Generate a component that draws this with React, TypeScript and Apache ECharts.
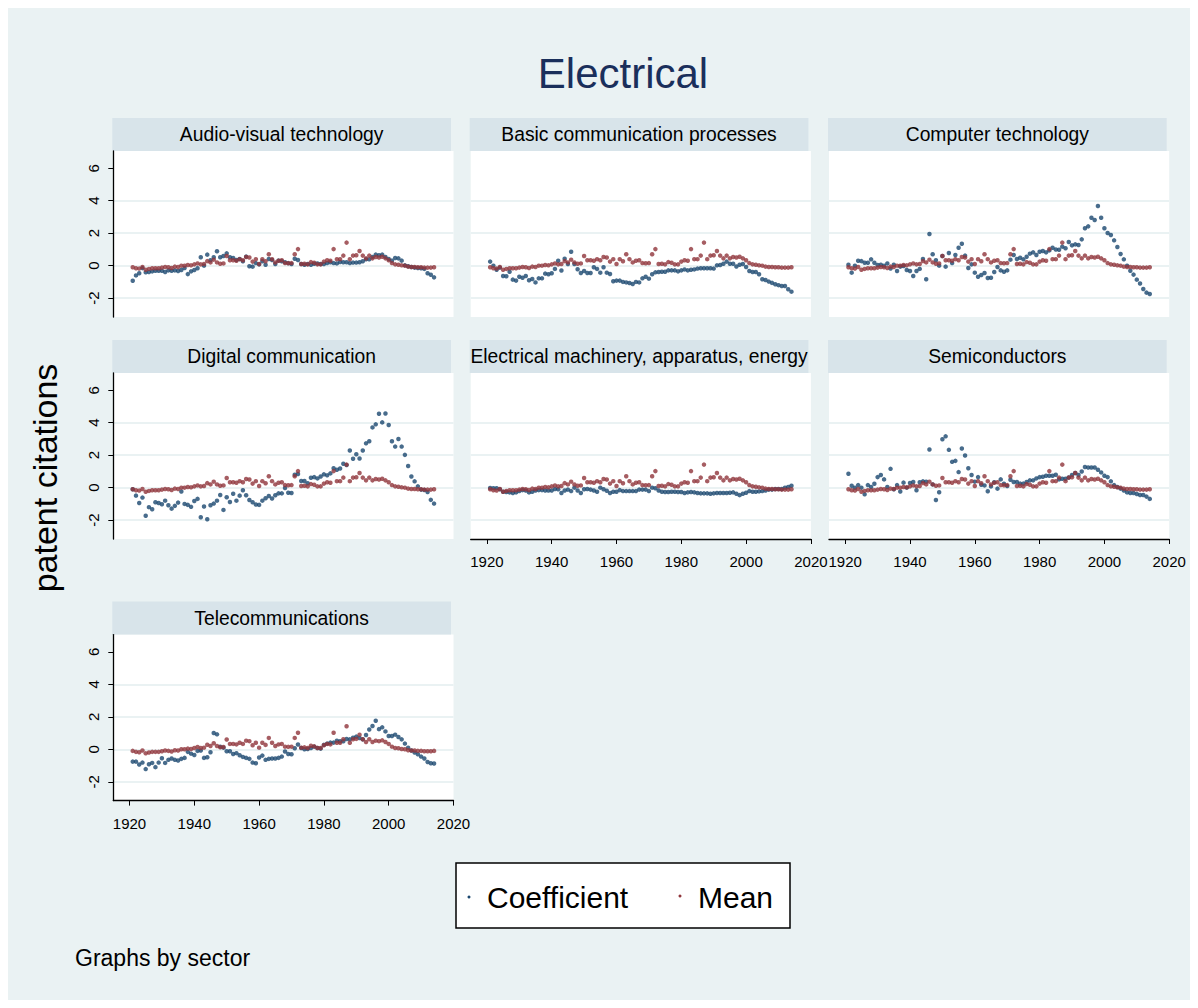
import React, { useEffect, useRef } from "react";
import * as echarts from "echarts";

const FIRST_YEAR = 1921;
const N_YEARS = 94;
const years: number[] = Array.from({ length: N_YEARS }, (_, i) => FIRST_YEAR + i);

const panelTitles = [
  "Audio-visual technology",
  "Basic communication processes",
  "Computer technology",
  "Digital communication",
  "Electrical machinery, apparatus, energy",
  "Semiconductors",
  "Telecommunications",
];

const xTicks = [1920, 1940, 1960, 1980, 2000, 2020];
const yTicks = [-2, 0, 2, 4, 6];

const meanValues = [
  -0.1, -0.16, -0.18, -0.08, -0.25, -0.2, -0.16, -0.16, -0.16, -0.12,
  -0.08, -0.1, -0.14, -0.06, -0.08, 0, 0, 0.04, 0.02, 0.08,
  0.14, 0.08, 0.1, 0.28, 0.2, 0.37, 0.2, 0.12, 0.14, 0.6,
  0.33, 0.33, 0.3, 0.4, 0.33, 0.53, 0.5, 0.25, 0.4, 0.1,
  0.4, 0.27, 0.7, 0.4, 0.2, 0.3, 0.33, 0.16, 0.15, 0.16,
  0.7, 1.02, 0.1, 0.12, 0.08, 0.22, 0.18, 0.08, 0.08, 0.25,
  0.33, 0.3, 1.02, 0.4, 0.4, 0.62, 1.42, 0.4, 0.62, 0.64,
  0.9, 0.62, 0.45, 0.62, 0.45, 0.53, 0.5, 0.55, 0.45, 0.33,
  0.16, 0.08, 0.06, 0.02, 0, -0.06, -0.08, -0.08, -0.1, -0.1,
  -0.12, -0.12, -0.12, -0.1,
];

const audioVisual = [
  -0.93, -0.6, -0.47, -0.15, -0.41, -0.39, -0.35, -0.31, -0.31, -0.31,
  -0.39, -0.29, -0.31, -0.29, -0.33, -0.27, -0.14, -0.52, -0.35, -0.27,
  -0.16, 0.52, 0, 0.68, 0.33, 0.52, 0.89, 0.52, 0.6, 0.76,
  0.52, 0.47, 0.35, 0.41, 0.27, 0.56, -0.04, -0.06, 0.16, 0.08,
  0.27, 0.06, 0.41, 0.35, 0.1, 0.31, 0.27, 0.21, 0.16, 0.1,
  0.43, 0.35, 0.1, 0.06, 0.1, 0.06, 0.12, 0.14, 0.1, 0.1,
  0.16, 0.21, 0.16, 0.14, 0.23, 0.21, 0.21, 0.16, 0.19, 0.19,
  0.21, 0.27, 0.39, 0.39, 0.54, 0.68, 0.64, 0.68, 0.54, 0.41,
  0.31, 0.47, 0.45, 0.31, 0.02, -0.04, -0.08, -0.12, -0.14, -0.16,
  -0.2, -0.47, -0.56, -0.72,
];

const basicCommunication = [
  0.25, 0, -0.25, -0.12, -0.64, -0.65, -0.37, -0.86, -0.92, -0.68,
  -0.74, -0.64, -0.9, -0.82, -1.03, -0.78, -0.78, -0.49, -0.53, -0.47,
  -0.2, 0.3, -0.3, 0.43, 0.1, 0.86, 0.1, -0.22, -0.45, -0.33,
  -0.45, -0.45, -0.1, -0.2, -0.43, -0.1, -0.43, -0.51, -0.96, -0.92,
  -0.92, -1.0, -1.03, -1.07, -1.13, -1.0, -1.03, -0.78, -0.68, -0.8,
  -0.53, -0.41, -0.39, -0.37, -0.37, -0.29, -0.29, -0.29, -0.35, -0.29,
  -0.23, -0.29, -0.25, -0.23, -0.18, -0.16, -0.16, -0.16, -0.16, -0.18,
  0.02, 0.04, 0.12, 0.25, 0.12, 0.12, -0.05, 0.06, 0.1, -0.08,
  -0.33, -0.39, -0.39, -0.53, -0.84, -0.88, -0.98, -1.06, -1.14, -1.2,
  -1.25, -1.25, -1.45, -1.6,
];

const computerTechnology = [
  0.06, -0.43, 0, 0.3, 0.28, 0.18, 0.18, 0.39, 0.18, 0.04,
  0.06, 0, 0.14, -0.18, 0.06, -0.33, -0.06, -0.02, -0.27, -0.33,
  -0.64, -0.33, -0.2, 0.41, -0.84, 1.95, 0.7, 0.33, 0, 0.6,
  -0.06, 0.78, 0.16, 0.66, 1.1, 1.35, 0.62, -0.14, 0.08, -0.43,
  -0.68, -0.57, -0.45, -0.76, -0.74, -0.39, -0.08, -0.29, -0.37, -0.29,
  0.37, 0.66, 0.41, 0.49, 0.39, 0.55, 0.74, 0.82, 0.66, 0.86,
  0.9, 0.82, 0.94, 1.1, 1.0, 0.98, 1.17, 1.07, 1.46, 1.25,
  1.31, 1.27, 1.62, 2.3, 2.42, 2.95, 2.81, 3.67, 2.95, 2.3,
  2.01, 1.89, 1.56, 1.15, 0.72, 0.39, 0, -0.31, -0.55, -0.86,
  -1.1, -1.44, -1.66, -1.74,
];

const digitalCommunication = [
  -0.1, -0.49, -0.94, -0.61, -1.73, -1.2, -1.33, -0.9, -0.94, -1.02,
  -0.8, -1.08, -1.29, -1.12, -0.92, -0.24, -1.0, -1.06, -1.18, -0.82,
  -0.69, -1.82, -1.16, -1.94, -1.08, -0.98, -0.8, -0.45, -1.37, -0.59,
  -0.88, -0.37, -0.8, -0.49, -0.16, -0.47, -0.76, -0.9, -1.04, -1.06,
  -0.8, -0.65, -0.51, -0.67, -0.47, -0.35, -0.35, -0.02, -0.31, -0.33,
  0.8, 0.84, 0.41, 0.41, 0.27, 0.61, 0.65, 0.57, 0.69, 0.82,
  0.76, 0.88, 1.2, 1.1, 1.18, 1.47, 1.39, 2.29, 1.78, 2.06,
  1.8, 2.29, 2.73, 2.86, 3.71, 3.9, 4.55, 4.02, 4.57, 3.86,
  2.86, 2.53, 3.0, 2.53, 2.02, 1.33, 0.69, 0.39, 0.08, -0.12,
  -0.14, -0.27, -0.75, -0.98,
];

const electricalMachinery = [
  -0.02, -0.03, -0.03, -0.1, -0.25, -0.27, -0.29, -0.33, -0.29, -0.21,
  -0.15, -0.17, -0.29, -0.25, -0.17, -0.15, -0.15, -0.17, -0.17, -0.17,
  -0.08, -0.1, -0.33, -0.17, -0.12, -0.21, 0, -0.17, -0.33, -0.1,
  -0.08, -0.12, -0.17, -0.25, 0, -0.1, -0.19, -0.33, -0.25, -0.25,
  -0.15, -0.21, -0.21, -0.21, -0.21, -0.21, -0.12, -0.12, -0.12, -0.21,
  0, -0.04, -0.17, -0.25, -0.27, -0.27, -0.25, -0.25, -0.27, -0.27,
  -0.33, -0.29, -0.27, -0.29, -0.33, -0.35, -0.35, -0.35, -0.37, -0.35,
  -0.33, -0.33, -0.33, -0.33, -0.31, -0.29, -0.37, -0.46, -0.37, -0.31,
  -0.21, -0.25, -0.25, -0.23, -0.21, -0.17, -0.12, -0.12, -0.08, -0.08,
  -0.08, 0, 0.04, 0.12,
];

const semiconductors = [
  0.86, 0.12, 0, 0.16, 0, -0.41, 0.16, 0.04, 0.24, 0.65,
  0.78, 0.51, 0.04, 1.16, -0.1, 0.16, -0.24, 0.31, 0, 0.29,
  0.35, -0.16, 0.33, 0.39, 0.37, 2.35, 0.2, -0.76, -0.28, 2.98,
  3.16, 2.33, 1.59, 1.65, 0.96, 2.41, 1.98, 1.2, 0.78, 0.37,
  0.65, 0.18, 0.14, -0.22, 0.08, 0.33, -0.06, 0.51, 0.24, 0.1,
  0.49, 0.35, 0.35, 0.25, 0.25, 0.35, 0.45, 0.45, 0.57, 0.65,
  0.67, 0.73, 0.73, 0.73, 0.8, 0.51, 0.55, 0.55, 0.63, 0.78,
  0.9, 0.78, 1.0, 1.27, 1.24, 1.24, 1.24, 1.1, 0.94, 0.73,
  0.65, 0.39, 0.16, 0.04, -0.06, -0.18, -0.29, -0.33, -0.33, -0.39,
  -0.45, -0.45, -0.55, -0.69,
];

const telecommunications = [
  -0.76, -0.76, -0.94, -0.82, -1.22, -0.92, -0.84, -1.1, -0.82, -0.55,
  -0.84, -0.65, -0.57, -0.65, -0.69, -0.59, -0.53, -0.16, -0.27, -0.35,
  -0.1, -0.08, -0.53, -0.49, -0.18, 1.0, 0.92, 0.16, 0.1, -0.12,
  -0.12, -0.29, -0.24, -0.37, -0.47, -0.53, -0.59, -0.82, -0.86, -0.51,
  -0.39, -0.65, -0.59, -0.57, -0.57, -0.53, -0.45, -0.14, -0.29, -0.31,
  0.06, 0.29, 0.08, 0, 0.02, 0.08, 0.16, 0.08, 0.04, 0.27,
  0.35, 0.41, 0.41, 0.53, 0.49, 0.49, 0.63, 0.61, 0.71, 0.78,
  0.69, 0.61, 0.88, 1.22, 1.43, 1.76, 1.24, 1.35, 1.1, 0.82,
  0.82, 0.9, 0.76, 0.61, 0.35, 0.1, -0.08, -0.2, -0.31, -0.45,
  -0.57, -0.78, -0.86, -0.88,
];

const coefficientSeries = [
  audioVisual,
  basicCommunication,
  computerTechnology,
  digitalCommunication,
  electricalMachinery,
  semiconductors,
  telecommunications,
];

const FONT = '"Liberation Sans", Arial, Helvetica, sans-serif';
const BG = "#eaf2f3";
const STRIP = "#d8e4ea";
const BLUE = "#1a476f";
const RED = "#90353b";

const COL_LEFT = [105.3, 462.7, 821];
const ROW_TOP = [143, 365, 626.6];
const PW = 340.2;
const PH = 166;
const HEADER_H = 33;

const panelPos = [
  [0, 0], [1, 0], [2, 0],
  [0, 1], [1, 1], [2, 1],
  [0, 2],
];

function buildOption() {
  const grids: any[] = [];
  const xAxes: any[] = [];
  const yAxes: any[] = [];
  const series: any[] = [];
  const graphics: any[] = [];

  panelTitles.forEach((title, i) => {
    const [c, r] = panelPos[i];
    const left = COL_LEFT[c];
    const top = ROW_TOP[r];
    const showY = c === 0;
    const showX = r === 2 || (r === 1 && c > 0);

    grids.push({
      left, top, width: PW, height: PH,
      show: true, backgroundColor: "#ffffff", borderWidth: 0,
      containLabel: false,
    });

    xAxes.push({
      gridIndex: i, type: "value", min: 1915, max: 2020,
      axisLine: { show: showX, onZero: false, lineStyle: { color: "#000", width: 1.3 } },
      axisTick: { show: showX, customValues: xTicks, length: 5, lineStyle: { color: "#000", width: 1 } },
      axisLabel: {
        show: showX, customValues: xTicks, fontSize: 15, color: "#000",
        fontFamily: FONT, margin: 15, formatter: (v: number) => String(v),
      },
      splitLine: { show: false },
    });

    yAxes.push({
      gridIndex: i, type: "value", min: -3.16, max: 7.06,
      axisLine: { show: showY, onZero: false, lineStyle: { color: "#000", width: 1.3 } },
      axisTick: { show: showY, customValues: yTicks, length: 5, lineStyle: { color: "#000", width: 1 } },
      axisLabel: {
        show: showY, customValues: yTicks, rotate: 90, fontSize: 15, color: "#000",
        fontFamily: FONT, margin: 12, formatter: (v: number) => String(v),
      },
      splitLine: {
        show: true,
        lineStyle: { color: [BG, BG, BG, BG, "rgba(0,0,0,0)"], width: 2 },
      },
    });

    series.push({
      name: "Coefficient", type: "scatter", xAxisIndex: i, yAxisIndex: i,
      symbol: "circle", symbolSize: 4.5, z: 3,
      itemStyle: { color: BLUE },
      data: years.map((y, k) => [y, coefficientSeries[i][k]]),
    });
    series.push({
      name: "Mean", type: "scatter", xAxisIndex: i, yAxisIndex: i,
      symbol: "circle", symbolSize: 4.5, z: 4,
      itemStyle: { color: RED },
      data: years.map((y, k) => [y, meanValues[k]]),
    });

    graphics.push({
      type: "rect",
      shape: { x: left - 1, y: top - HEADER_H, width: PW - 1.5, height: HEADER_H },
      style: { fill: STRIP },
      silent: true,
    });
    graphics.push({
      type: "text",
      x: left + (PW - 1.5) / 2 - 1,
      y: top - HEADER_H / 2,
      style: {
        text: title, fill: "#000", fontSize: 19.3, fontFamily: FONT,
        align: "center", verticalAlign: "middle",
        textAlign: "center", textVerticalAlign: "middle",
      },
      silent: true,
    });
  });

  graphics.push({
    type: "text", x: 615, y: 65,
    style: {
      text: "Electrical", fill: "#1a2f5b", fontSize: 42, fontFamily: FONT,
      align: "center", verticalAlign: "middle", textAlign: "center", textVerticalAlign: "middle",
    },
  });
  graphics.push({
    type: "text", x: 37, y: 470, rotation: Math.PI / 2,
    style: {
      text: "patent citations", fill: "#000", fontSize: 34, fontFamily: FONT,
      align: "center", verticalAlign: "middle", textAlign: "center", textVerticalAlign: "middle",
    },
  });
  graphics.push({
    type: "rect",
    shape: { x: 448, y: 855, width: 334, height: 65 },
    style: { fill: "#fff", stroke: "#000", lineWidth: 1.5 },
  });
  graphics.push({ type: "circle", shape: { cx: 461, cy: 889, r: 1.5 }, style: { fill: BLUE } });
  graphics.push({ type: "circle", shape: { cx: 672, cy: 888, r: 1.5 }, style: { fill: RED } });
  graphics.push({
    type: "text", x: 479, y: 889,
    style: {
      text: "Coefficient", fill: "#000", fontSize: 30, fontFamily: FONT,
      align: "left", verticalAlign: "middle", textAlign: "left", textVerticalAlign: "middle",
    },
  });
  graphics.push({
    type: "text", x: 690, y: 889,
    style: {
      text: "Mean", fill: "#000", fontSize: 30, fontFamily: FONT,
      align: "left", verticalAlign: "middle", textAlign: "left", textVerticalAlign: "middle",
    },
  });
  graphics.push({
    type: "text", x: 67, y: 950,
    style: {
      text: "Graphs by sector", fill: "#000", fontSize: 23, fontFamily: FONT,
      align: "left", verticalAlign: "middle", textAlign: "left", textVerticalAlign: "middle",
    },
  });

  return {
    animation: false,
    backgroundColor: BG,
    textStyle: { fontFamily: FONT },
    grid: grids,
    xAxis: xAxes,
    yAxis: yAxes,
    series,
    graphic: { elements: graphics },
  };
}

export default function App() {
  const ref = useRef<HTMLDivElement>(null);
  useEffect(() => {
    if (!ref.current) return;
    const chart = echarts.init(ref.current, undefined, { renderer: "svg" });
    chart.setOption(buildOption() as any);
    return () => chart.dispose();
  }, []);
  return <div ref={ref} style={{ width: 1182, height: 992 }} />;
}
